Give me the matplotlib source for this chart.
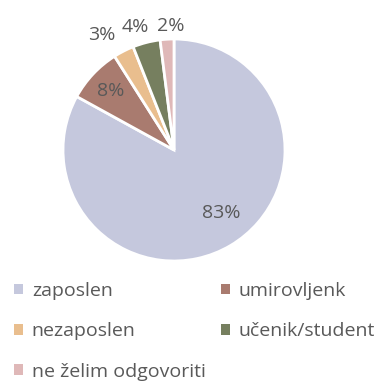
import matplotlib.pyplot as plt
import numpy as np

plt.rcParams['font.family'] = ['Open Sans', 'DejaVu Sans']

categories = ["zaposlen", "umirovljenk", "nezaposlen", "učenik/student", "ne želim odgovoriti"]
shares = [83, 8, 3, 4, 2]
colors = ["#C5C8DD", "#A97B6F", "#E9BE8E", "#767F5F", "#DFB8B8"]

# label placement: (radius factor, angle shift in degrees) per slice
label_r = [0.71, 0.78, 1.22, 1.16, 1.12]
label_shift = [6, 0, 5, 3, -2]

W, H = 378, 383
cx, cy, R = 174, 150, 111  # pie centre / radius in pixels

fig = plt.figure(figsize=(W / 100, H / 100), dpi=100)
ax = fig.add_axes([0, 0, 1, 1])

wedges, _ = ax.pie(shares, colors=colors, startangle=90, counterclock=False,
                   radius=1, wedgeprops=dict(edgecolor="white", linewidth=2))
ax.set_aspect("auto")
ax.set_xlim(-cx / R, (W - cx) / R)
ax.set_ylim(-(H - cy) / R, cy / R)
ax.axis("off")

for w, v, rf, sh in zip(wedges, shares, label_r, label_shift):
    ang = np.deg2rad((w.theta1 + w.theta2) / 2 + sh)
    ax.text(rf * np.cos(ang), rf * np.sin(ang), f"{v}%", ha="center", va="center",
            fontsize=14, color="#595959")

# legend is filled column by column, so reorder to read row by row
order = [0, 2, 4, 1, 3]
leg = fig.legend([wedges[i] for i in order], [categories[i] for i in order],
                 ncol=2, loc="upper left", bbox_to_anchor=(0.038, 0.264),
                 frameon=False, fontsize=14, labelcolor="#595959",
                 handlelength=0.45, handleheight=0.45, handletextpad=0.45,
                 labelspacing=1.15, columnspacing=0.8, borderaxespad=0, borderpad=0)
for h in leg.legend_handles:
    h.set_edgecolor("none")

fig.savefig("out.png", dpi=100)
